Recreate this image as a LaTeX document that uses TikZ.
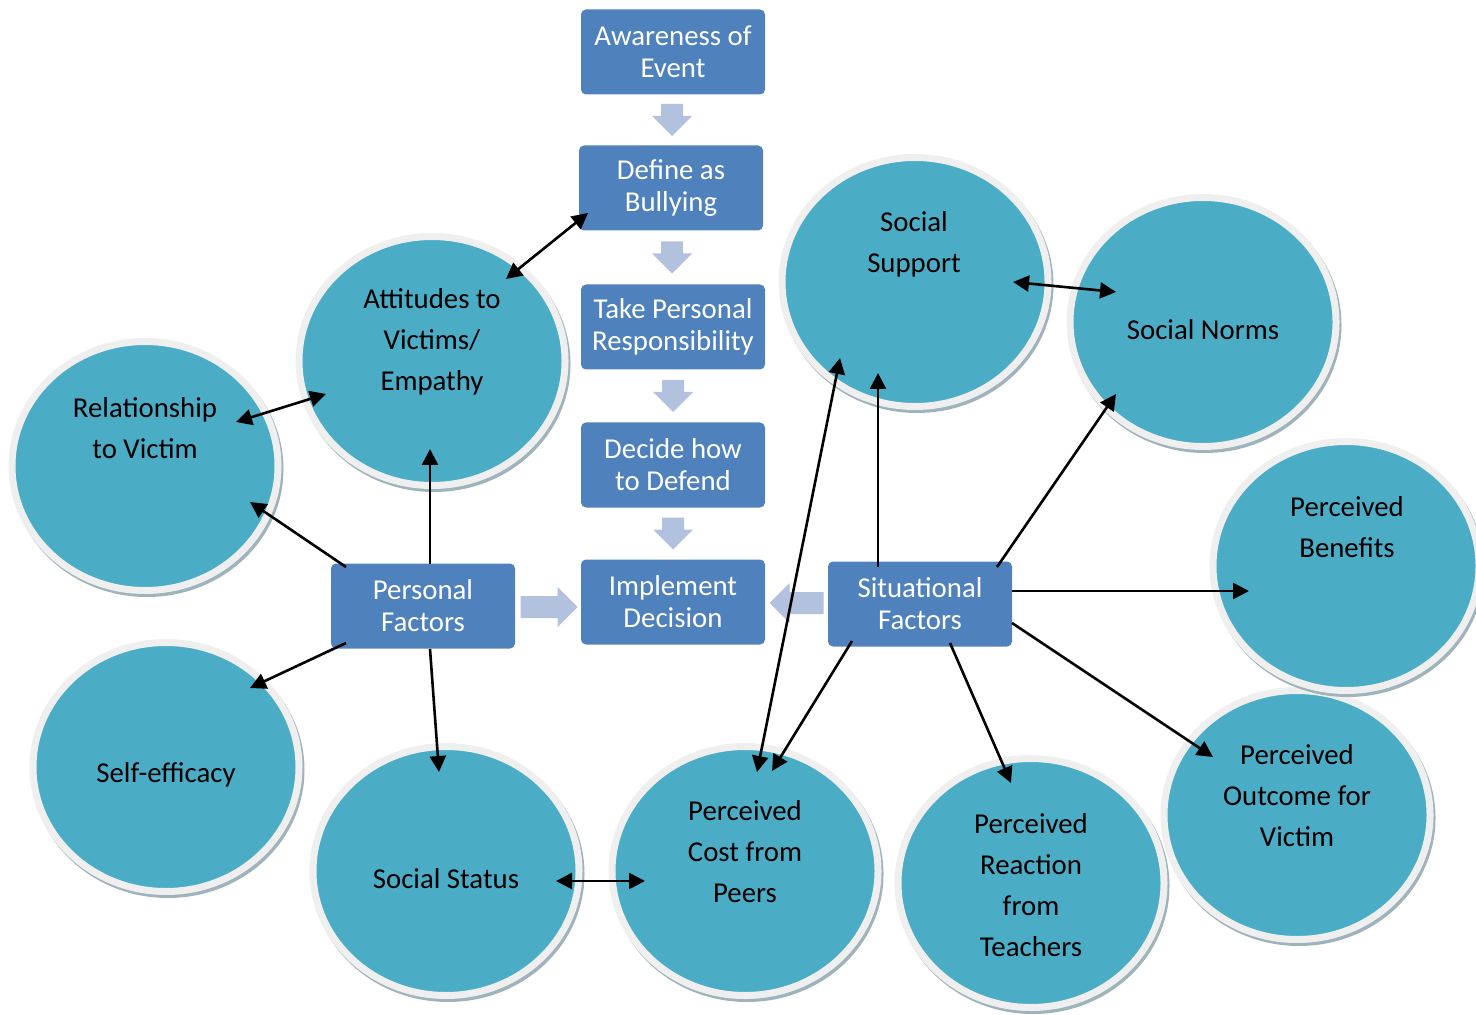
\documentclass[tikz,border=0pt]{standalone}
\usepackage{fontspec}
\setmainfont{Carlito}
\usetikzlibrary{calc,shapes.geometric,arrows.meta}
\definecolor{boxc}{HTML}{4F81BD}
\definecolor{discc}{HTML}{4BACC6}
\definecolor{ringc}{HTML}{EFEFEF}
\definecolor{shadc}{HTML}{9FB3BC}
\definecolor{blockc}{HTML}{B2C2DE}

\tikzset{
  pics/blk/.style={code={
    \fill[blockc] (-#1/2,-11) -- (#1/2-20,-11) -- (#1/2-20,-20) -- (#1/2,0)
      -- (#1/2-20,20) -- (#1/2-20,11) -- (-#1/2,11) -- cycle;}},
}

\begin{document}
\begin{tikzpicture}[x=0.5pt,y=-0.5pt,
  stage/.style={rectangle, rounded corners=2.5pt, fill=boxc, text=white,
    minimum width=92pt, minimum height=42.5pt, align=center, inner sep=2pt,
    font=\fontsize{14.4}{16}\selectfont},
  disc/.style={ellipse, minimum width=133pt, minimum height=124.5pt, inner sep=0pt,
    fill=discc, draw=ringc, line width=3.5pt,
    preaction={draw=shadc, fill=shadc, line width=3.5pt,
      transform canvas={shift={(1pt,-1.5pt)}}}},
  lbl/.style={align=center, text=black, inner sep=0pt,
    font=\fontsize{14.4}{20.5}\selectfont},
  link/.style={line width=1.3pt, -{Triangle[length=8pt,width=8pt]}},
  both/.style={line width=1.3pt,
    {Triangle[length=8pt,width=8pt]}-{Triangle[length=8pt,width=8pt]}},
]
\useasboundingbox (0,0) rectangle (1476,1015);

% factor discs
\node[disc] (rel)   at (145,466)  {};
\node[disc] (att)   at (432,361)  {};
\node[disc] (selfe) at (166,767)  {};
\node[disc] (stat)  at (446,871)  {};
\node[disc] (cost)  at (745,871)  {};
\node[disc] (teach) at (1031,883) {};
\node[disc] (outc)  at (1297,815) {};
\node[disc] (bene)  at (1346,566) {};
\node[disc] (norms) at (1203,322) {};
\node[disc] (supp)  at (915,282)  {};

% disc captions
\node[lbl] (rel-t)   at (145,428)  {Relationship\\to Victim};
\node[lbl] (att-t)   at (432,342)  {Attitudes to\\Victims/\\Empathy};
\node[lbl] (selfe-t) at (166,775)  {Self-efficacy};
\node[lbl] (stat-t)  at (446,879)  {Social Status};
\node[lbl] (cost-t)  at (745,852)  {Perceived\\Cost from\\Peers};
\node[lbl] (teach-t) at (1031,885) {Perceived\\Reaction\\from\\Teachers};
\node[lbl] (outc-t)  at (1297,796) {Perceived\\Outcome for\\Victim};
\node[lbl] (bene-t)  at (1347,527) {Perceived\\Benefits};
\node[lbl] (norms-t) at (1203,330) {Social Norms};
\node[lbl] (supp-t)  at (914,244)  {Social\\Support};

% decision stages
\node[stage] (aw)   at (673,52)  {Awareness of\\Event};
\node[stage] (def)  at (671,188) {Define as\\Bullying};
\node[stage] (take) at (673,327) {Take Personal\\Responsibility};
\node[stage] (dec)  at (673,465) {Decide how\\to Defend};
\node[stage] (impl) at (673,602) {Implement\\Decision};
\node[stage] (pers) at (423,606) {Personal\\Factors};
\node[stage] (sit)  at (920,604) {Situational\\Factors};

% block arrows between stages
\pic[rotate=-90] at ($(aw.south)!.5!(def.north)$) {blk=32};
\pic[rotate=-90] at ($(def.south)!.5!(take.north)$) {blk=32};
\pic[rotate=-90] at ($(take.south)!.5!(dec.north)$) {blk=32};
\pic[rotate=-90] at ($(dec.south)!.5!(impl.north)$) {blk=32};
\pic at ($(pers.east)!.5!(impl.west)+(1,3)$) {blk=57};
\pic[rotate=180] at ($(impl.east)!.5!(sit.west)$) {blk=54};

% connectors
\draw[both] ($(def.center)+(-83,25)$) -- ($(att.center)+(74,-82)$);
\draw[both] ($(att.center)+(-106,33)$) -- ($(rel.center)+(91,-44)$);
\draw[link] ($(pers.center)+(-77,-39)$) -- ($(rel.center)+(105,36)$);
\draw[link] ($(pers.center)+(7,-42)$) -- ($(att.center)+(-2,88)$);
\draw[link] ($(pers.center)+(-77,37)$) -- ($(selfe.center)+(84,-79)$);
\draw[link] ($(pers.center)+(7,43)$) -- ($(stat.center)+(-7,-99)$);
\draw[both] ($(stat.center)+(110,10)$) -- ($(cost.center)+(-100,10)$);
\draw[link] ($(sit.center)+(-68,37)$) -- ($(cost.center)+(27,-100)$);
\draw[both] ($(cost.center)+(12,-99)$) -- ($(supp.center)+(-75,76)$);
\draw[link] ($(sit.center)+(-42,-37)$) -- ($(supp.center)+(-37,91)$);
\draw[both] ($(supp.center)+(98,0)$) -- ($(norms.center)+(-87,-30)$);
\draw[link] ($(sit.center)+(77,-37)$) -- ($(norms.center)+(-87,72)$);
\draw[link] ($(sit.center)+(92,-13)$) -- ($(bene.center)+(-97,25)$);
\draw[link] ($(sit.center)+(92,19)$) -- ($(outc.center)+(-84,-58)$);
\draw[link] ($(sit.center)+(30,39)$) -- ($(teach.center)+(-20,-100)$);
\end{tikzpicture}
\end{document}
